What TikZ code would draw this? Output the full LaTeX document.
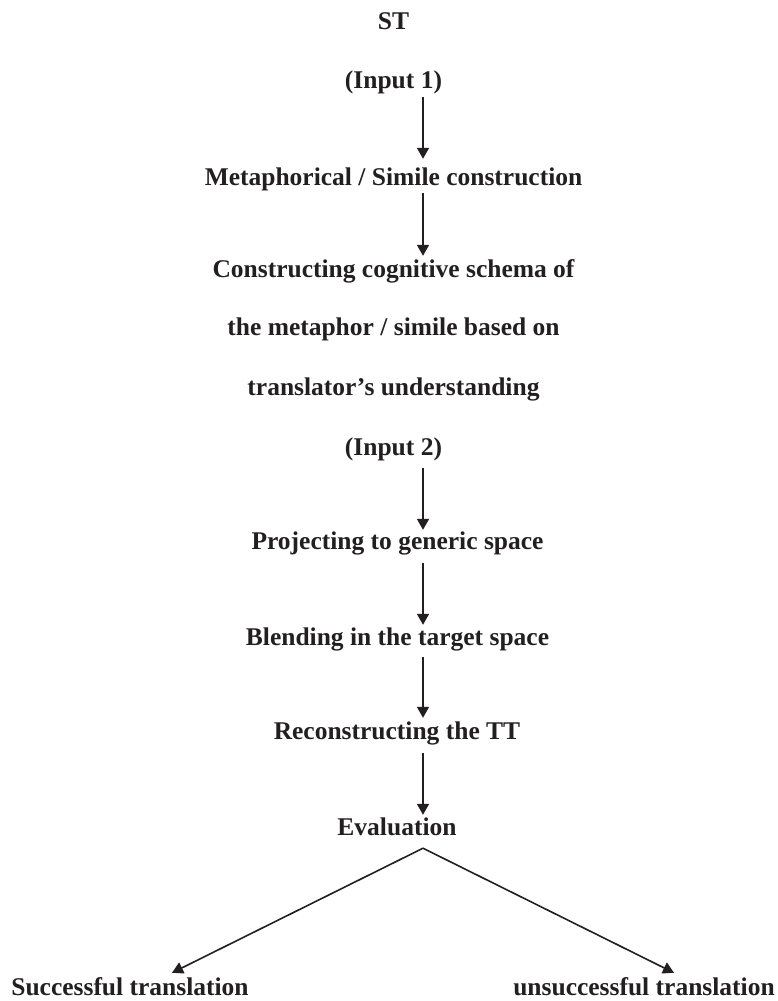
\documentclass[tikz,border=0pt]{standalone}
\usepackage{fontspec}
\setmainfont{Liberation Serif}
\usetikzlibrary{arrows.meta}
\definecolor{ink}{HTML}{231F20}
\begin{document}
\begin{tikzpicture}[x=1pt,y=-1pt,
  label/.style={anchor=base,inner sep=0pt,text height=18pt,text depth=6pt,
    text=ink,font=\fontsize{25.5}{30}\selectfont\bfseries},
  flow/.style={draw=ink,line width=1.6pt,
    -{Triangle[width=12pt,length=11pt]}}]
\useasboundingbox (0,0) rectangle (777,1001);

% column that carries the vertical arrows
\coordinate (col) at (423,0);

\node[label] (st)   at (393.5,29)  {ST};
\node[label] (in1)  at (393.5,88)  {(Input 1)};
\node[label] (meta) at (393.5,185) {Metaphorical / Simile construction};
\node[label] (cs1)  at (393.5,277) {Constructing cognitive schema of};
\node[label] (cs2)  at (393.5,335) {the metaphor / simile based on};
\node[label] (cs3)  at (393.5,395) {translator’s understanding};
\node[label] (in2)  at (393.5,455) {(Input 2)};
\node[label] (proj) at (397.5,549) {Projecting to generic space};
\node[label] (blend) at (397.5,645) {Blending in the target space};
\node[label] (recon) at (397,739) {Reconstructing the TT};
\node[label] (eval) at (397,835) {Evaluation};
\node[label] (succ) at (130,995) {Successful translation};
\node[label] (fail) at (644,995) {unsuccessful translation};

\draw[flow,shorten <=3pt,shorten >=8pt] (in1.south -| col) -- (meta.north -| col);
\draw[flow,shorten <=2pt,shorten >=3pt] (meta.south -| col) -- (cs1.north -| col);
\draw[flow,shorten <=7pt,shorten >=1pt] (in2.south -| col) -- (proj.north -| col);
\draw[flow,shorten <=8pt,shorten >=2pt] (proj.south -| col) -- (blend.north -| col);
\draw[flow,shorten <=6pt,shorten >=3pt] (blend.south -| col) -- (recon.north -| col);
\draw[flow,shorten <=8pt,shorten >=2pt] (recon.south -| col) -- (eval.north -| col);

% split below the evaluation step
\coordinate (split) at ([yshift=-7pt]eval.south -| col);
\draw[flow] (split) -- ([xshift=42pt,yshift=4pt]succ.north);
\draw[flow] (split) -- ([xshift=30pt,yshift=4pt]fail.north);
\end{tikzpicture}
\end{document}
